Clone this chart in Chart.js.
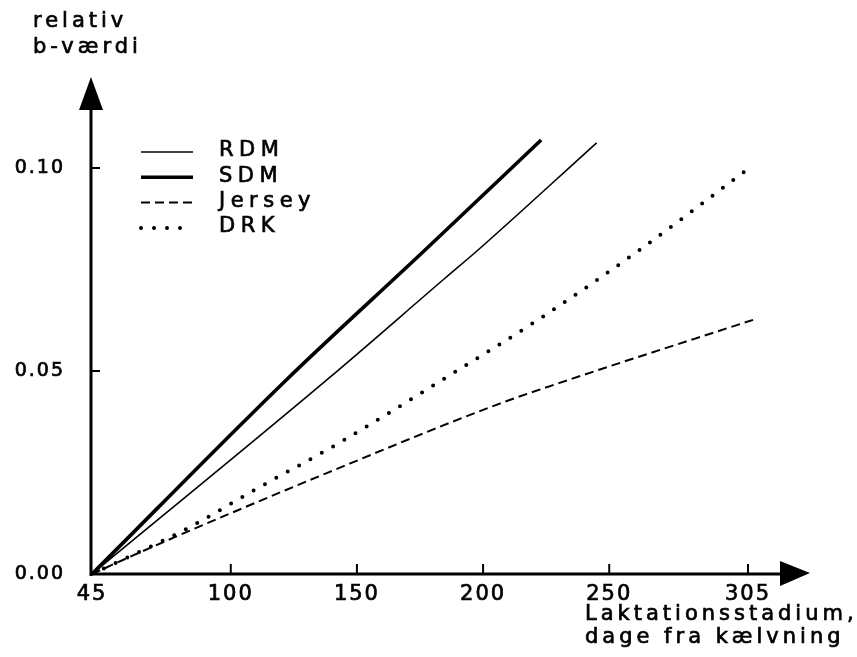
<!DOCTYPE html>
<html>
<head>
<meta charset="utf-8">
<script src="https://cdn.jsdelivr.net/npm/chart.js@4"></script>
<style>
  body { margin: 0; background: #fff; }
  #wrap { width: 857px; height: 657px; }
</style>
</head>
<body>
<div id="wrap"><canvas id="chart" width="857" height="657"></canvas></div>
<script>
// values: days after calving -> relative b-value
const rdm_days = [45, 139, 185, 198, 245];
const rdm_b = [0, 0.0483, 0.0729, 0.0798, 0.1062];

const sdm_days = [45, 122, 177, 223];
const sdm_b = [0, 0.0478, 0.0798, 0.1069];

const jersey_days = [45, 69, 139, 205, 230, 307];
const jersey_b = [0, 0.0067, 0.0251, 0.0416, 0.047, 0.0626];

const drk_days = [45, 83, 110, 143, 183, 223, 262, 304];
const drk_b = [0, 0.0113, 0.0209, 0.0323, 0.0475, 0.0631, 0.0798, 0.0993];

const x_ticks = [45, 100, 150, 200, 250, 305];
const y_ticks = [0, 0.05, 0.10];

function to_points(days, vals) {
    return days.map((d, i) => ({ x: d, y: vals[i] }));
}

// fill + thin stroke so the text gets the heavier plotter-pen look
function pen_text(ctx, txt, x, y) {
    ctx.fillText(txt, x, y);
    ctx.strokeText(txt, x, y);
}

// axes with arrows, tick marks, legend and titles drawn like the plotter original
const plotter_plugin = {
    id: "plotter",
    beforeDraw(chart) {
        chart.ctx.letterSpacing = "2px";
    },
    afterDraw(chart) {
        const ctx = chart.ctx;
        const area = chart.chartArea;
        const xs = chart.scales.x;
        const ys = chart.scales.y;
        const ox = area.left - 1;
        const oy = area.bottom;

        ctx.save();
        ctx.letterSpacing = "0px";
        ctx.strokeStyle = "#000";
        ctx.fillStyle = "#000";

        // y axis + arrow
        ctx.lineWidth = 3;
        ctx.beginPath();
        ctx.moveTo(ox, oy + 2);
        ctx.lineTo(ox, area.top + 30);
        ctx.stroke();
        ctx.beginPath();
        ctx.moveTo(ox, area.top);
        ctx.lineTo(ox - 12, area.top + 33);
        ctx.lineTo(ox + 12, area.top + 33);
        ctx.closePath();
        ctx.fill();

        // x axis + arrow
        ctx.beginPath();
        ctx.moveTo(ox - 1, oy);
        ctx.lineTo(area.right - 28, oy);
        ctx.stroke();
        ctx.beginPath();
        ctx.moveTo(area.right, oy - 1);
        ctx.lineTo(area.right - 30, oy - 13);
        ctx.lineTo(area.right - 30, oy + 12);
        ctx.closePath();
        ctx.fill();

        // tick marks
        ctx.lineWidth = 2;
        ctx.beginPath();
        x_ticks.slice(1).forEach(v => {
            const px = xs.getPixelForValue(v);
            ctx.moveTo(px, oy);
            ctx.lineTo(px, oy - 10);
        });
        y_ticks.slice(1).forEach(v => {
            const py = ys.getPixelForValue(v);
            ctx.moveTo(ox, py);
            ctx.lineTo(ox + 9, py);
        });
        ctx.stroke();

        // legend
        chart.data.datasets.forEach((ds, i) => {
            const y = area.top + 75 + i * 25.3;
            ctx.save();
            ctx.lineWidth = ds.borderWidth;
            ctx.setLineDash(ds.borderDash || []);
            ctx.lineCap = ds.borderCapStyle || "butt";
            ctx.beginPath();
            ctx.moveTo(area.left + 49, y);
            ctx.lineTo(area.left + 101, y);
            ctx.stroke();
            ctx.restore();
            ctx.font = "21px 'DejaVu Sans'";
            ctx.letterSpacing = "5.5px";
            ctx.textBaseline = "middle";
            ctx.lineWidth = 0.7;
            pen_text(ctx, ds.label, area.left + 127, y - 1);
        });

        // axis titles
        ctx.font = "21px 'DejaVu Sans'";
        ctx.letterSpacing = "4px";
        ctx.textBaseline = "alphabetic";
        ctx.textAlign = "left";
        ctx.lineWidth = 0.7;
        pen_text(ctx, "relativ", 33, 27);
        pen_text(ctx, "b-værdi", 33, 53);
        pen_text(ctx, "Laktationsstadium,", 585, 620);
        pen_text(ctx, "dage fra kælvning", 585, 643);

        ctx.restore();
        ctx.letterSpacing = "0px";
    }
};

Chart.defaults.color = "#000";
Chart.defaults.font.family = "'DejaVu Sans'";

const chart = new Chart(document.querySelector("#chart"), {
    type: "line",
    data: {
        datasets: [
            { label: "RDM", data: to_points(rdm_days, rdm_b), borderColor: "#000", borderWidth: 1.6 },
            { label: "SDM", data: to_points(sdm_days, sdm_b), borderColor: "#000", borderWidth: 3.6 },
            { label: "Jersey", data: to_points(jersey_days, jersey_b), borderColor: "#000", borderWidth: 2, borderDash: [9, 5] },
            { label: "DRK", data: to_points(drk_days, drk_b), borderColor: "#000", borderWidth: 4, borderDash: [0, 13], borderCapStyle: "round" }
        ]
    },
    options: {
        responsive: false,
        animation: false,
        layout: { padding: { top: 77, right: 47, left: 0, bottom: 0 } },
        elements: {
            point: { radius: 0 },
            line: { cubicInterpolationMode: "monotone", fill: false }
        },
        plugins: {
            legend: { display: false },
            tooltip: { enabled: false }
        },
        scales: {
            x: {
                type: "linear",
                min: 45,
                max: 329.57,
                grid: { display: false, drawTicks: false },
                border: { display: false },
                afterBuildTicks: (scale) => { scale.ticks = x_ticks.map(v => ({ value: v })); },
                afterFit: (scale) => { scale.height = 83; },
                ticks: {
                    padding: 8, font: { size: 21 },
                    textStrokeColor: "#000", textStrokeWidth: 0.7,
                    callback: (v) => String(v)
                }
            },
            y: {
                type: "linear",
                min: 0,
                max: 0.12241,
                grid: { display: false, drawTicks: false },
                border: { display: false },
                afterBuildTicks: (scale) => { scale.ticks = y_ticks.map(v => ({ value: v })); },
                afterFit: (scale) => { scale.width = 92; },
                ticks: {
                    padding: 27, font: { size: 19 },
                    textStrokeColor: "#000", textStrokeWidth: 0.7,
                    callback: (v) => v.toFixed(2)
                }
            }
        }
    },
    plugins: [plotter_plugin]
});
</script>
</body>
</html>
